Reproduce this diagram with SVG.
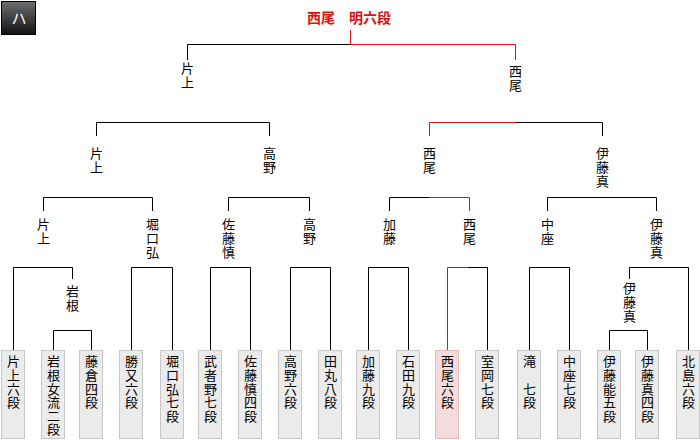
<svg xmlns="http://www.w3.org/2000/svg" width="700" height="440" viewBox="0 0 700 440">
<defs>
<linearGradient id="hg" x1="0" y1="0" x2="0" y2="1">
<stop offset="0" stop-color="#6e6e6e"/>
<stop offset="1" stop-color="#121212"/>
</linearGradient>
</defs>
<style>
.t{font-family:"Noto Sans CJK JP","Noto Sans",sans-serif;font-size:13px;fill:#000;writing-mode:vertical-rl;letter-spacing:0.6px}
.box{fill:#ebebeb;stroke:#c8c8c8;stroke-width:1}
.win{fill:#f5dcdc;stroke:#e8bcbc;stroke-width:1}
.k{fill:none;stroke:#000;stroke-width:1}
.r{fill:none;stroke:#dd1111;stroke-width:1}
.title{font-family:"Noto Sans CJK JP","Noto Sans",sans-serif;font-size:14px;font-weight:bold;fill:#dd1111}
</style>
<rect width="700" height="440" fill="#fff"/>
<g id="badge">
<rect x="1.5" y="1.5" width="34" height="33" fill="url(#hg)" stroke="#000"/>
<text x="19" y="24" style="font-family:'Noto Sans CJK JP',sans-serif;font-size:15px;fill:#fff;text-anchor:middle">ハ</text>
</g>
<g id="champion"><text class="title" x="307" y="23">西尾　明六段</text></g>

<g id="connectors">
<path class="k" d="M187.5,60 V44.5 H350.5"/>
<path class="r" d="M350.5,30 V44.5 H515.5 V60"/>
<path class="k" d="M96.5,136 V122.5 H269.5 V136"/>
<path class="r" d="M429.5,136 V122.5 H515.5"/>
<path class="k" d="M515.5,122.5 H602.5 V136"/>
<path class="k" d="M43.5,211 V197.5 H152.5 V211"/>
<path class="k" d="M228.5,211 V197.5 H309.5 V211"/>
<path class="k" d="M389.5,211 V197.5 H429.5"/>
<path class="r" d="M429.5,197.5 H469.5 V211"/>
<path class="k" d="M547.5,211 V197.5 H656.5 V211"/>
<path class="k" d="M13.5,350 V267.5 H72.5 V279"/>
<path class="k" d="M131.5,350 V267.5 H172.5 V350"/>
<path class="k" d="M210.5,350 V267.5 H250.5 V350"/>
<path class="k" d="M290.5,350 V267.5 H330.5 V350"/>
<path class="k" d="M368.5,350 V267.5 H408.5 V350"/>
<path class="r" d="M447.5,350 V267.5 H467.5"/>
<path class="k" d="M467.5,267.5 H487.5 V350"/>
<path class="k" d="M529.5,350 V267.5 H569.5 V350"/>
<path class="k" d="M629.5,279 V267.5 H688.5 V350"/>
<path class="k" d="M53.5,350 V330.5 H91.5 V350"/>
<path class="k" d="M609.5,350 V330.5 H647.5 V350"/>
</g>

<g id="m-final-l"><text class="t" x="187.5" y="62">片上</text></g>
<g id="m-final-r"><text class="t" x="515.5" y="65">西尾</text></g>

<g id="m-sf1"><text class="t" x="96.5" y="147">片上</text></g>
<g id="m-sf2"><text class="t" x="269.5" y="147">高野</text></g>
<g id="m-sf3"><text class="t" x="429.5" y="147">西尾</text></g>
<g id="m-sf4"><text class="t" x="602.5" y="147">伊藤真</text></g>

<g id="m-qf1"><text class="t" x="43.5" y="218">片上</text></g>
<g id="m-qf2"><text class="t" x="152.5" y="218">堀口弘</text></g>
<g id="m-qf3"><text class="t" x="228.5" y="218">佐藤慎</text></g>
<g id="m-qf4"><text class="t" x="309.5" y="218">高野</text></g>
<g id="m-qf5"><text class="t" x="389.5" y="218">加藤</text></g>
<g id="m-qf6"><text class="t" x="469.5" y="218">西尾</text></g>
<g id="m-qf7"><text class="t" x="547.5" y="218">中座</text></g>
<g id="m-qf8"><text class="t" x="656.5" y="218">伊藤真</text></g>

<g id="m-r1a"><text class="t" x="72.5" y="285">岩根</text></g>
<g id="m-r1b"><text class="t" x="629.5" y="282">伊藤真</text></g>

<g id="p1"><rect class="box" x="1.5" y="350.5" width="23" height="88"/><text class="t" x="13.5" y="355">片上六段</text></g>
<g id="p2"><rect class="box" x="41.5" y="350.5" width="23" height="88"/><text class="t" x="53.5" y="355">岩根女流二段</text></g>
<g id="p3"><rect class="box" x="79.5" y="350.5" width="23" height="88"/><text class="t" x="91.5" y="355">藤倉四段</text></g>
<g id="p4"><rect class="box" x="119.5" y="350.5" width="23" height="88"/><text class="t" x="131.5" y="355">勝又六段</text></g>
<g id="p5"><rect class="box" x="160.5" y="350.5" width="23" height="88"/><text class="t" x="172.5" y="355">堀口弘七段</text></g>
<g id="p6"><rect class="box" x="198.5" y="350.5" width="23" height="88"/><text class="t" x="210.5" y="355">武者野七段</text></g>
<g id="p7"><rect class="box" x="238.5" y="350.5" width="23" height="88"/><text class="t" x="250.5" y="355">佐藤慎四段</text></g>
<g id="p8"><rect class="box" x="278.5" y="350.5" width="23" height="88"/><text class="t" x="290.5" y="355">高野六段</text></g>
<g id="p9"><rect class="box" x="318.5" y="350.5" width="23" height="88"/><text class="t" x="330.5" y="355">田丸八段</text></g>
<g id="p10"><rect class="box" x="356.5" y="350.5" width="23" height="88"/><text class="t" x="368.5" y="355">加藤九段</text></g>
<g id="p11"><rect class="box" x="396.5" y="350.5" width="23" height="88"/><text class="t" x="408.5" y="355">石田九段</text></g>
<g id="p12"><rect class="win" x="435.5" y="350.5" width="23" height="88"/><text class="t" x="447.5" y="355">西尾六段</text></g>
<g id="p13"><rect class="box" x="475.5" y="350.5" width="23" height="88"/><text class="t" x="487.5" y="355">室岡七段</text></g>
<g id="p14"><rect class="box" x="517.5" y="350.5" width="23" height="88"/><text class="t" x="529.5" y="355">滝　七段</text></g>
<g id="p15"><rect class="box" x="557.5" y="350.5" width="23" height="88"/><text class="t" x="569.5" y="355">中座七段</text></g>
<g id="p16"><rect class="box" x="597.5" y="350.5" width="23" height="88"/><text class="t" x="609.5" y="355">伊藤能五段</text></g>
<g id="p17"><rect class="box" x="635.5" y="350.5" width="23" height="88"/><text class="t" x="647.5" y="355">伊藤真四段</text></g>
<g id="p18"><rect class="box" x="676.5" y="350.5" width="23" height="88"/><text class="t" x="688.5" y="355">北島六段</text></g>
</svg>
